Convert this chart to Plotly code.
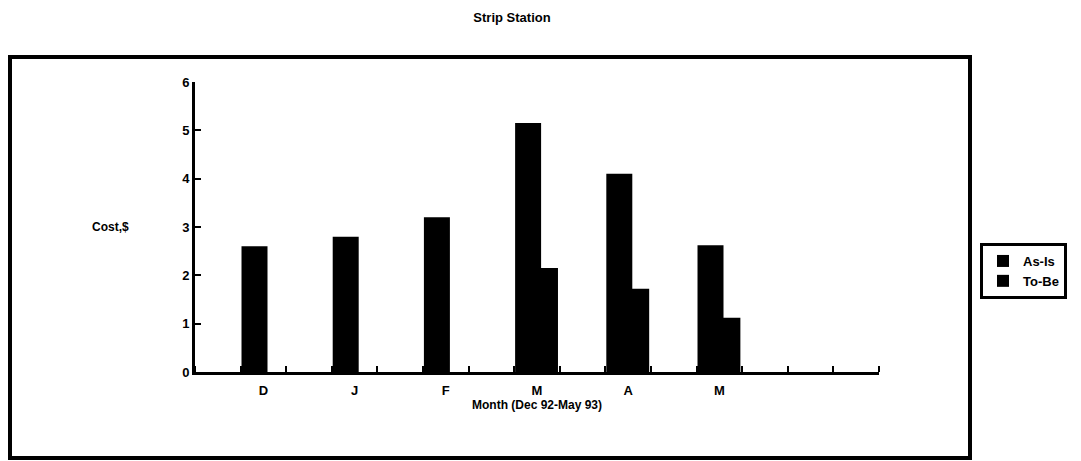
import plotly.graph_objects as go

months = ["D", "J", "F", "M", "A", "M"]
as_is = [2.6, 2.8, 3.2, 5.15, 4.1, 2.62]
to_be = [None, None, None, 2.15, 1.72, 1.12]
y_ticks = [0, 1, 2, 3, 4, 5, 6]

# numeric positions: each month occupies two tick intervals on a 0..15 axis
pos = [1.5 + 2 * i for i in range(len(months))]

L, R, T, B = 195, 1081 - 879, 82, 461 - 372
W, H = 1081 - L - R, 461 - T - B

def px_x(p):
    return (p - L) / W

def px_y(p):
    return (461 - B - p) / H

font = "Liberation Sans"
fig = go.Figure()
fig.add_trace(go.Bar(x=pos, y=to_be, name="<b>To-Be</b>", marker=dict(color="black", line=dict(width=0)),
                     width=0.57, offset=-0.11, legendrank=2))
fig.add_trace(go.Bar(x=pos, y=as_is, name="<b>As-Is</b>", marker=dict(color="black", line=dict(width=0)),
                     width=0.57, offset=-0.48, legendrank=1))

fig.update_layout(
    width=1081, height=461,
    margin=dict(l=L, r=R, t=T, b=B),
    paper_bgcolor="white", plot_bgcolor="white",
    barmode="overlay",
    font=dict(family=font, color="black", size=13),
    title=dict(text="<b>Strip Station</b>", x=512 / 1081, xanchor="center",
               y=1 - 17 / 461, yanchor="middle", font=dict(size=13, family=font)),
    showlegend=True,
    legend=dict(x=px_x(980), y=px_y(243), xanchor="left", yanchor="top",
                bordercolor="black", borderwidth=3, bgcolor="white",
                font=dict(size=13, family=font), itemwidth=30,
                tracegroupgap=0),
    xaxis=dict(range=[0, 15], tickvals=pos, ticktext=["<b>%s</b>" % m for m in months],
               ticks="", showgrid=False, zeroline=False,
               showline=True, linecolor="black", linewidth=3,
               tickfont=dict(size=13, family=font), ticklabelstandoff=4,
               minor=dict(tick0=0, dtick=1, ticks="inside", ticklen=6, tickwidth=2, tickcolor="black", showgrid=False)),
    yaxis=dict(range=[0, 6], tickvals=y_ticks, ticktext=["<b>%d</b>" % v for v in y_ticks],
               ticks="inside", ticklen=6, tickwidth=2, tickcolor="black",
               showgrid=False, zeroline=False, showline=True, linecolor="black", linewidth=3,
               tickfont=dict(size=13, family=font)),
)

fig.add_annotation(text="<b>Cost,$</b>", x=px_x(110), y=3, xref="paper", yref="y",
                   showarrow=False, xanchor="center", yanchor="middle", font=dict(size=12, family=font))
fig.add_annotation(text="<b>Month (Dec 92-May 93)</b>", x=px_x(537), y=px_y(405), xref="paper", yref="paper",
                   showarrow=False, xanchor="center", yanchor="middle", font=dict(size=12, family=font))

fig.add_shape(type="rect", xref="paper", yref="paper",
              x0=px_x(10), x1=px_x(970), y0=px_y(458), y1=px_y(57),
              line=dict(color="black", width=4), fillcolor="rgba(0,0,0,0)", layer="below")

fig.write_html("out.html", config={"displayModeBar": False},
               post_script="document.body.style.margin='0';")
